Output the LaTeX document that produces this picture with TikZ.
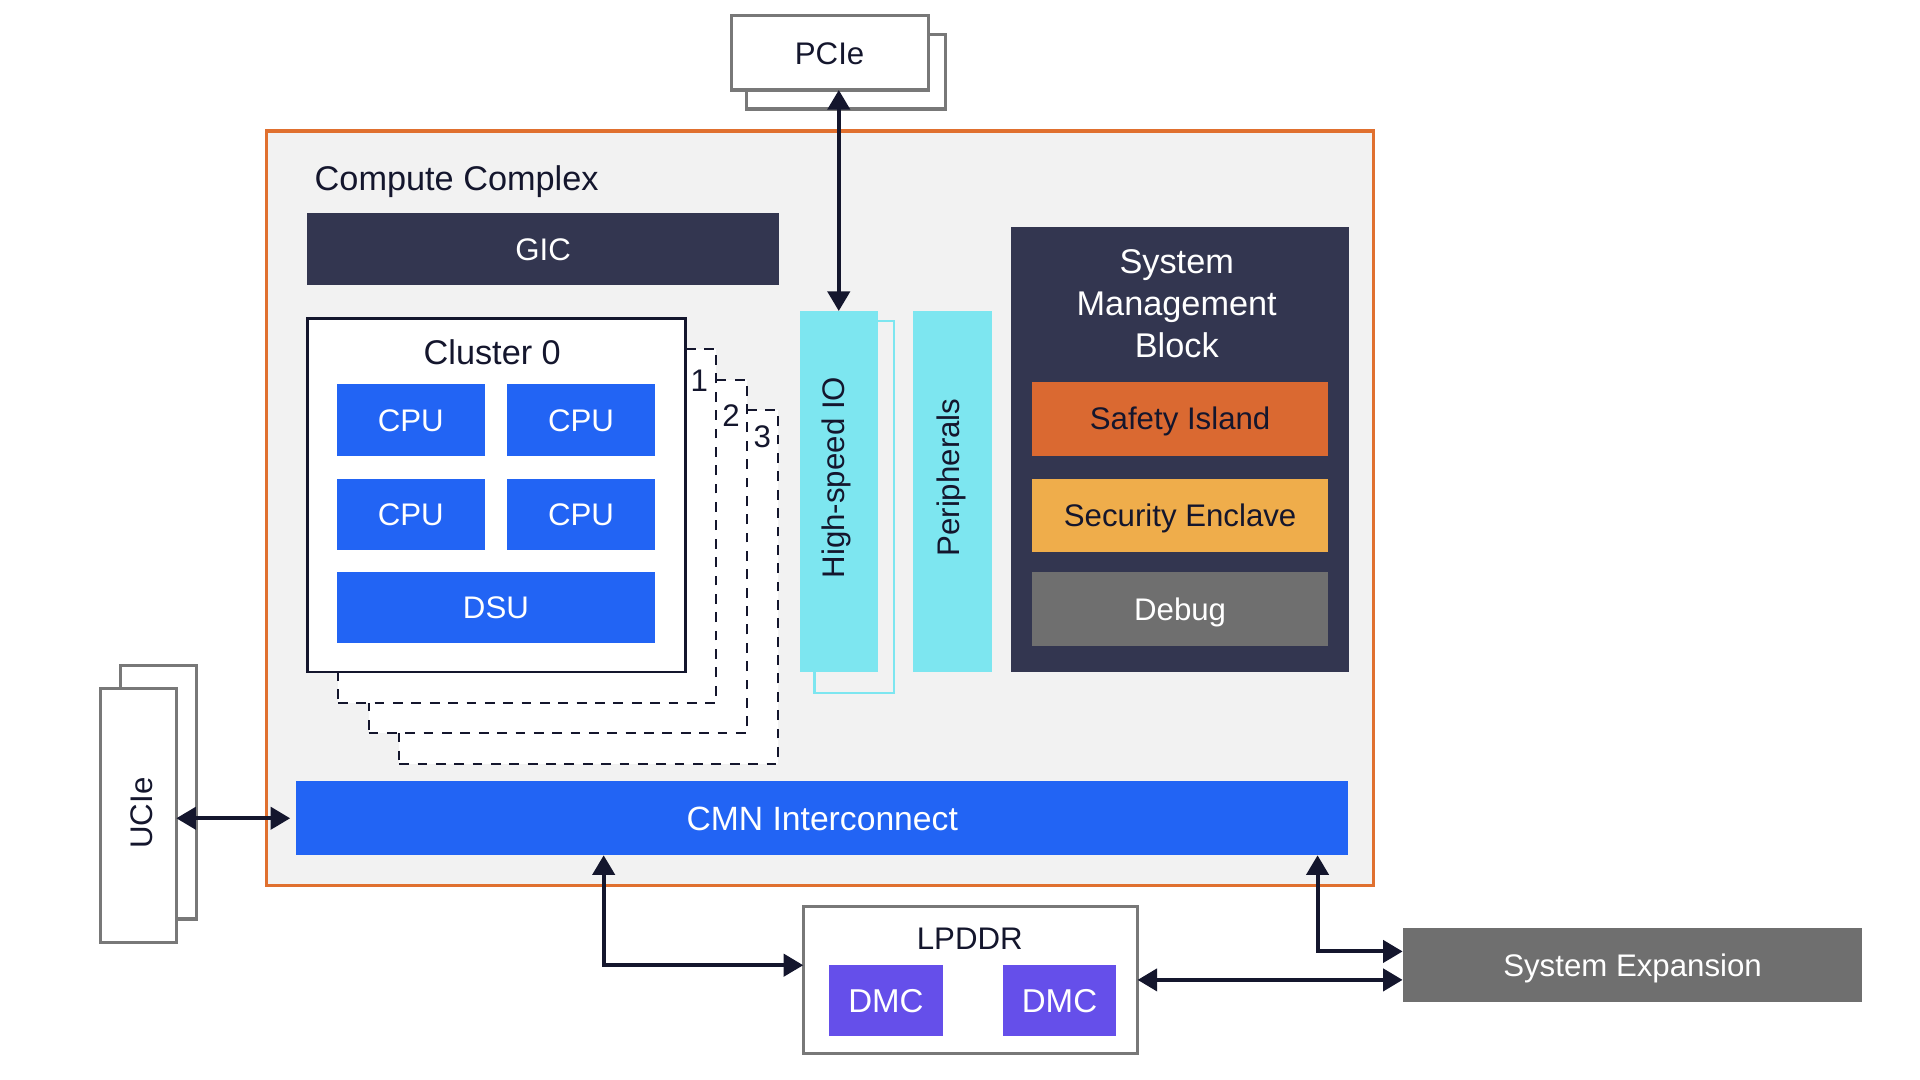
\documentclass[tikz,border=0pt]{standalone}
\usepackage{fontspec}
\setmainfont{Liberation Sans}
\usetikzlibrary{arrows.meta}
\definecolor{textnavy}{RGB}{20,22,45}
\definecolor{navyfill}{RGB}{51,54,80}
\definecolor{blueb}{RGB}{34,100,244}
\definecolor{cyanb}{RGB}{125,230,240}
\definecolor{orangeb}{RGB}{224,112,47}
\definecolor{safetyc}{RGB}{218,105,49}
\definecolor{securec}{RGB}{239,173,75}
\definecolor{greyc}{RGB}{111,111,111}
\definecolor{greys}{RGB}{120,120,120}
\definecolor{dmcc}{RGB}{101,79,234}
\definecolor{bgc}{RGB}{242,242,242}
\newcommand{\lblfont}{\fontsize{25.5}{30}\selectfont}
\newcommand{\ttlfont}{\fontsize{28}{34}\selectfont}
\begin{document}
\begin{tikzpicture}[x=1pt,y=-1pt,
  box/.style={inner sep=0pt, outer sep=0pt, anchor=center, text height=18.3pt, text depth=0pt},
  lbl/.style={font=\lblfont, text=textnavy, inner sep=0pt, outer sep=0pt},
  cpu/.style={box, fill=blueb, text=white, font=\lblfont, minimum width=121pt, minimum height=58pt},
  card/.style={box, fill=white, draw=textnavy, line width=1.6pt, dash pattern=on 8pt off 7pt, minimum width=309pt, minimum height=289pt},
  greybox/.style={box, fill=white, draw=greys, line width=2.5pt},
  smbitem/.style={box, font=\lblfont, minimum width=241.5pt, minimum height=60pt},
  dmcbox/.style={box, fill=dmcc, text=white, font=\fontsize{27}{32}\selectfont, text height=19.3pt, minimum width=93pt, minimum height=58pt},
  arr/.style={draw=textnavy, line width=3.3pt, {Triangle[length=16pt,width=18pt]}-{Triangle[length=16pt,width=18pt]}}
]
\useasboundingbox (0,0) rectangle (1568,882);

% PCIe
\node[greybox, minimum width=162pt, minimum height=61pt] (pcieback) at (691,58.5) {};
\node[greybox, font=\lblfont, text=textnavy, minimum width=161pt, minimum height=60.5pt] (pcie) at (677.5,43.25) {PCIe};

% outer compute complex
\node[box, fill=bgc, draw=orangeb, line width=2.5pt, minimum width=904pt, minimum height=616pt] (outer) at (670,415) {};
\node[lbl, font=\ttlfont, anchor=west] (cctitle) at (257,148) {Compute Complex};

% GIC
\node[box, fill=navyfill, text=white, font=\lblfont, minimum width=385pt, minimum height=59pt] (gic) at (443.5,203.5) {GIC};

% cluster cards
\node[card] (card3) at (480.5,479.5) {};
\node[card] (card2) at (455.5,454.5) {};
\node[card] (card1) at (430.5,429.5) {};
\node[box, fill=white, draw=textnavy, line width=2pt, minimum width=309pt, minimum height=289pt] (cluster) at (405.5,404.5) {};
\node[lbl, font=\ttlfont] (cltitle) at (402,288) {Cluster 0};
\node[lbl] (n1) at (571,311) {1};
\node[lbl] (n2) at (597,339) {2};
\node[lbl] (n3) at (622.5,357) {3};

\node[cpu] (cpu1) at (335.5,343) {CPU};
\node[cpu] (cpu2) at (474.5,343) {CPU};
\node[cpu] (cpu3) at (335.5,420) {CPU};
\node[cpu] (cpu4) at (474.5,420) {CPU};
\node[cpu, minimum width=260pt] (dsu) at (405,496) {DSU};

% High-speed IO & Peripherals
\node[box, fill=bgc, draw=cyanb, line width=2pt, minimum width=65pt, minimum height=304pt] (hsioback) at (697.5,414) {};
\node[box, fill=cyanb, minimum width=64pt, minimum height=295pt] (hsio) at (685,401.5) {};
\node[lbl, rotate=90] (hsiotxt) at (683,390) {High-speed IO};
\node[box, fill=cyanb, minimum width=64.5pt, minimum height=295pt] (periph) at (777.75,401.5) {};
\node[lbl, rotate=90] (periphtxt) at (777,390) {Peripherals};

% System Management Block
\node[box, fill=navyfill, minimum width=276pt, minimum height=364pt] (smb) at (964,367) {};
\node[lbl, font=\ttlfont, text=white, align=center] (smbtitle) at (961,248) {System\\Management\\Block};
\node[smbitem, fill=safetyc, text=textnavy] (safety) at (963.75,342) {Safety Island};
\node[smbitem, fill=securec, text=textnavy] (secure) at (963.75,421) {Security Enclave};
\node[smbitem, fill=greyc, text=white] (debug) at (963.75,497.5) {Debug};

% CMN
\node[box, fill=blueb, text=white, font=\fontsize{27.5}{33}\selectfont, text height=19.7pt, minimum width=859pt, minimum height=60.5pt] (cmn) at (671.5,668.25) {CMN Interconnect};

% UCIe
\node[greybox, minimum width=62pt, minimum height=207pt] (ucieback) at (129.5,647) {};
\node[greybox, minimum width=62pt, minimum height=208pt] (ucie) at (113,666) {};
\node[lbl, rotate=90] (ucietxt) at (115.5,664) {UCIe};

% LPDDR
\node[greybox, minimum width=273pt, minimum height=120.5pt] (lpddr) at (792.5,800.25) {};
\node[lbl] (lpddrtxt) at (792,767) {LPDDR};
\node[dmcbox] (dmc1) at (723.5,817) {DMC};
\node[dmcbox] (dmc2) at (865.25,817) {DMC};

% System Expansion
\node[box, fill=greyc, text=white, font=\lblfont, minimum width=375.5pt, minimum height=60pt] (sysexp) at (1333.25,788) {System Expansion};

% connectors
\draw[arr] (hsio.north |- pcie.south) -- (hsio.north);
\draw[arr] (ucie.east |- cmn.west) -- ([xshift=-5pt]cmn.west);
\draw[arr] ([xshift=251pt]cmn.south west) |- ([yshift=12pt]lpddr.west);
\draw[arr] (lpddr.east) -- (lpddr.east -| sysexp.west);
\draw[arr] ([xshift=-25pt]cmn.south east) |- ([yshift=11pt]sysexp.west);
\end{tikzpicture}
\end{document}
